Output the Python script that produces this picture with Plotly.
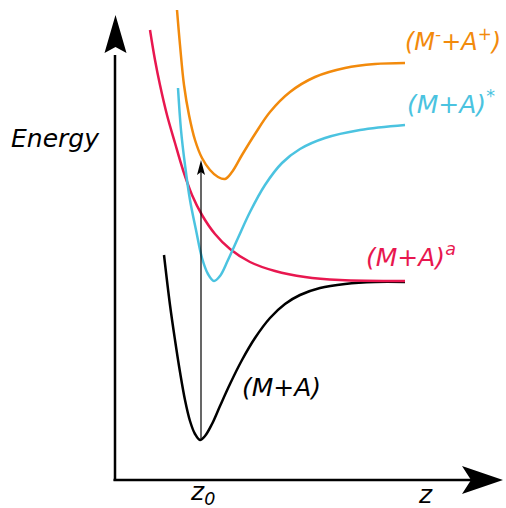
import plotly.graph_objects as go

# Potential energy curves E(z) for the M + A system (arbitrary units)
z_ground = [0.49, 0.55, 0.60, 0.65, 0.70, 0.75, 0.80, 0.85, 0.90, 0.97, 1.05, 1.15,
            1.27, 1.40, 1.55, 1.70, 1.85, 2.05, 2.30, 2.60, 2.90]
e_ground = [2.25, 1.75, 1.40, 1.08, 0.80, 0.59, 0.46, 0.40, 0.44, 0.56, 0.74, 0.96,
            1.20, 1.42, 1.62, 1.76, 1.85, 1.92, 1.96, 1.98, 1.98]

z_repulsive = [0.35, 0.40, 0.45, 0.52, 0.60, 0.68, 0.77, 0.87, 1.00, 1.15, 1.35,
               1.60, 1.90, 2.25, 2.90]
e_repulsive = [4.50, 4.20, 3.95, 3.65, 3.37, 3.10, 2.85, 2.65, 2.46, 2.31, 2.18,
               2.09, 2.03, 2.00, 1.99]

z_excited = [0.63, 0.66, 0.70, 0.75, 0.81, 0.87, 0.93, 0.99, 1.05, 1.13, 1.23, 1.35,
             1.50, 1.67, 1.85, 2.10, 2.45, 2.90]
e_excited = [3.92, 3.50, 3.15, 2.80, 2.50, 2.22, 2.06, 1.99, 2.04, 2.20, 2.42, 2.68,
             2.95, 3.17, 3.31, 3.42, 3.50, 3.55]

z_ionic = [0.62, 0.65, 0.69, 0.74, 0.80, 0.87, 0.95, 1.03, 1.10, 1.17, 1.27, 1.40,
           1.55, 1.75, 2.00, 2.30, 2.60, 2.90]
e_ionic = [4.70, 4.35, 3.95, 3.65, 3.40, 3.22, 3.10, 3.03, 3.01, 3.08, 3.25, 3.46,
           3.68, 3.88, 4.03, 4.12, 4.16, 4.17]

# Vertical transition at the ground-state equilibrium distance z0
z0 = 0.86
e_from = 0.40
e_to = 3.20

ORANGE = "#F28A0C"
RED = "#E8174F"
CYAN = "#4BC3E0"
BLACK = "#000000"
FONT = "DejaVu Sans"

fig = go.Figure()

for zs, es, col in [
    (z_ground, e_ground, BLACK),
    (z_repulsive, e_repulsive, RED),
    (z_excited, e_excited, CYAN),
    (z_ionic, e_ionic, ORANGE),
]:
    fig.add_trace(go.Scatter(
        x=zs, y=es, mode="lines",
        line=dict(color=col, width=2.5, shape="spline", smoothing=1.0),
        hoverinfo="skip", showlegend=False,
    ))

# Axes drawn as arrows
fig.add_shape(type="line", xref="x", yref="y", x0=0, y0=-0.01, x1=0, y1=4.25,
              line=dict(color=BLACK, width=2.5))
fig.add_shape(type="line", xref="x", yref="y", x0=-0.015, y0=0, x1=3.62, y1=0,
              line=dict(color=BLACK, width=2.5))
fig.add_shape(type="path", xref="x", yref="y", xsizemode="pixel", ysizemode="pixel",
              xanchor=0.005, yanchor=4.65,
              path="M0,0 L-11,-38 L0,-32 L11,-38 Z",
              fillcolor=BLACK, line=dict(width=0))
fig.add_shape(type="path", xref="x", yref="y", xsizemode="pixel", ysizemode="pixel",
              xanchor=3.88, yanchor=0,
              path="M0,0 L-41,14 L-32,0 L-41,-14 Z",
              fillcolor=BLACK, line=dict(width=0))

# Transition arrow
fig.add_shape(type="line", xref="x", yref="y", x0=z0, y0=e_from, x1=z0, y1=e_to - 0.08,
              line=dict(color=BLACK, width=1.2))
fig.add_shape(type="path", xref="x", yref="y", xsizemode="pixel", ysizemode="pixel",
              xanchor=z0, yanchor=e_to,
              path="M0,0 L-4,-15 L0,-12 L4,-15 Z",
              fillcolor=BLACK, line=dict(width=0))

def label(text, x, y, color, xanchor="left", yanchor="middle", size=25):
    fig.add_annotation(
        text=text, x=x, y=y, xref="x", yref="y", showarrow=False,
        xanchor=xanchor, yanchor=yanchor, borderpad=0,
        font=dict(family=FONT, size=size, color=color, style="italic"),
    )

label("Energy", -1.05, 3.42, BLACK)
label("(M+A)", 1.26, 0.93, BLACK)
label("(M+A)<sup>a</sup>", 2.50, 2.25, RED)
label("(M+A)<sup>*</sup>", 2.91, 3.78, CYAN)
label("(M<sup>-</sup>+A<sup>+</sup>)", 2.89, 4.40, ORANGE, size=24)
label("z", 3.10, -0.14, BLACK, xanchor="center")
label("z<sub>0</sub>", 0.74, -0.13, BLACK)

fig.update_layout(
    width=506, height=508,
    margin=dict(l=0, r=0, t=0, b=0),
    paper_bgcolor="white", plot_bgcolor="white",
    xaxis=dict(range=[-1.15, 3.91], visible=False, fixedrange=True),
    yaxis=dict(range=[-0.28, 4.80], visible=False, fixedrange=True),
    showlegend=False,
)

fig.write_html("out.html")
